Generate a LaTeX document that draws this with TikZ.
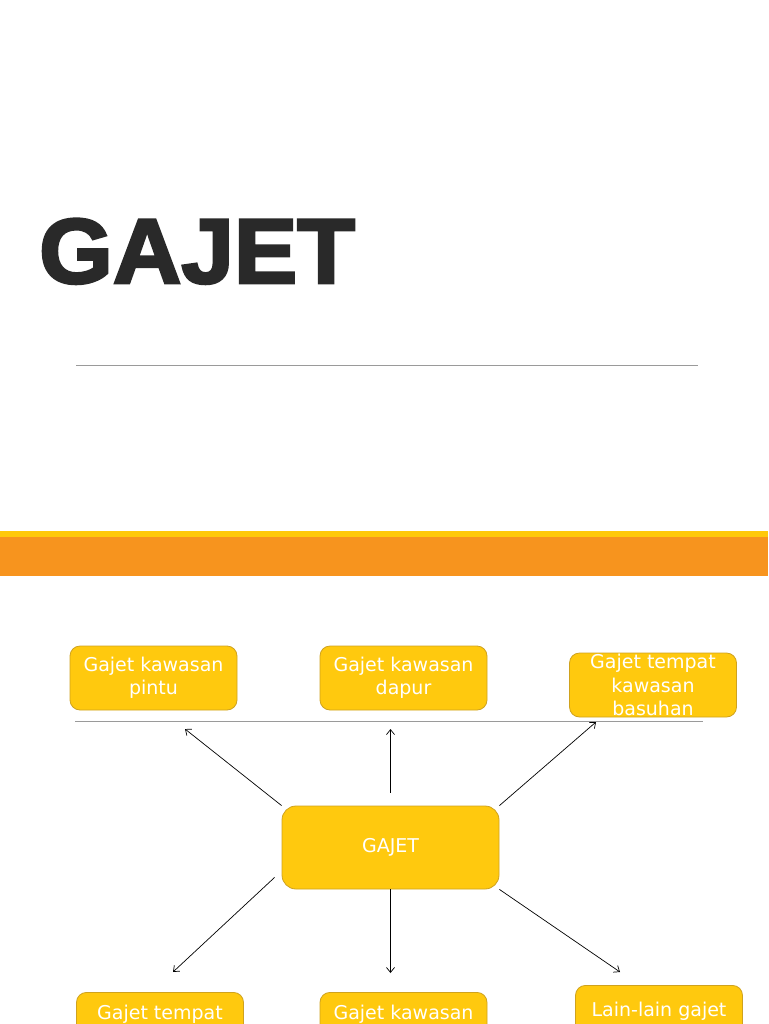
\documentclass[tikz,border=0pt]{standalone}
\usepackage{fontspec}
\setmainfont{DejaVu Sans}
\newfontfamily\titlefont[FakeBold=3, FakeStretch=1.03]{Liberation Sans Bold}
\usetikzlibrary{positioning, arrows.meta}

\definecolor{boxfill}{HTML}{FFC90E}
\definecolor{boxline}{HTML}{CFA21E}
\definecolor{bandorange}{HTML}{F7941E}
\definecolor{bandyellow}{HTML}{FFC90A}
\definecolor{titlegray}{HTML}{292929}
\definecolor{rulegray}{HTML}{9A9A9A}

\begin{document}
\begin{tikzpicture}[x=1pt, y=-1pt,
    gajetbox/.style={draw=boxline, fill=boxfill, line width=0.8pt, rounded corners=10pt,
        minimum width=167pt, minimum height=64pt, inner sep=0pt, text=white,
        align=center, font=\fontsize{19}{23.5}\selectfont},
    link/.style={-{Straight Barb[length=5pt,width=8pt]}, line width=0.7pt, black},
    rule/.style={rulegray, line width=0.9pt}]
    \useasboundingbox (0,0) rectangle (768,1024);
    \clip (0,0) rectangle (768,1024);

    % Title
    \node[anchor=base west, inner sep=0pt, text=titlegray,
          font=\titlefont\fontsize{92}{92}\selectfont] (title) at (39,283) {GAJET};
    \draw[rule] (76,365) -- (698,365);

    % Bands
    \fill[bandorange] (0,537) rectangle (768,576);
    \fill[bandyellow] (0,531) rectangle (768,537);

    % Top row
    \node[gajetbox] (pintu) at (153.5,678) {Gajet kawasan\\pintu};
    \node[gajetbox] (dapur) at (403.5,678) {Gajet kawasan\\dapur};
    \node[gajetbox] (basuhan) at (653,685) {Gajet tempat\\kawasan\\basuhan};
    \draw[rule] (75,721) -- (703,721);

    % Centre
    \node[gajetbox, minimum width=217pt, minimum height=83pt, rounded corners=14pt] (hub) at (390.5,847.5) {GAJET};

    % Bottom row
    \node[gajetbox, anchor=north] (tempat) at (160,992) {Gajet tempat\\\mbox{}};
    \node[gajetbox, anchor=north] (kawasan) at (403.5,992) {Gajet kawasan\\\mbox{}};
    \node[gajetbox, anchor=north, minimum height=52pt] (lain) at (659,985) {Lain-lain gajet};

    % Arrow tips
    \coordinate (tipA) at (185,729);
    \coordinate (tipB) at (390.5,729);
    \coordinate (tipC) at (596,722);
    \coordinate (tipD) at (173,972);
    \coordinate (tipE) at (390.5,973);
    \coordinate (tipF) at (620,972);

    % Arrows
    \draw[link] (hub.north west) -- (tipA);
    \draw[link] ([yshift=13pt]hub.north) -- (tipB);
    \draw[link] (hub.north east) -- (tipC);
    \draw[link] ([xshift=-7pt,yshift=12pt]hub.south west) -- (tipD);
    \draw[link] (hub.south) -- (tipE);
    \draw[link] (hub.south east) -- (tipF);
\end{tikzpicture}
\end{document}
